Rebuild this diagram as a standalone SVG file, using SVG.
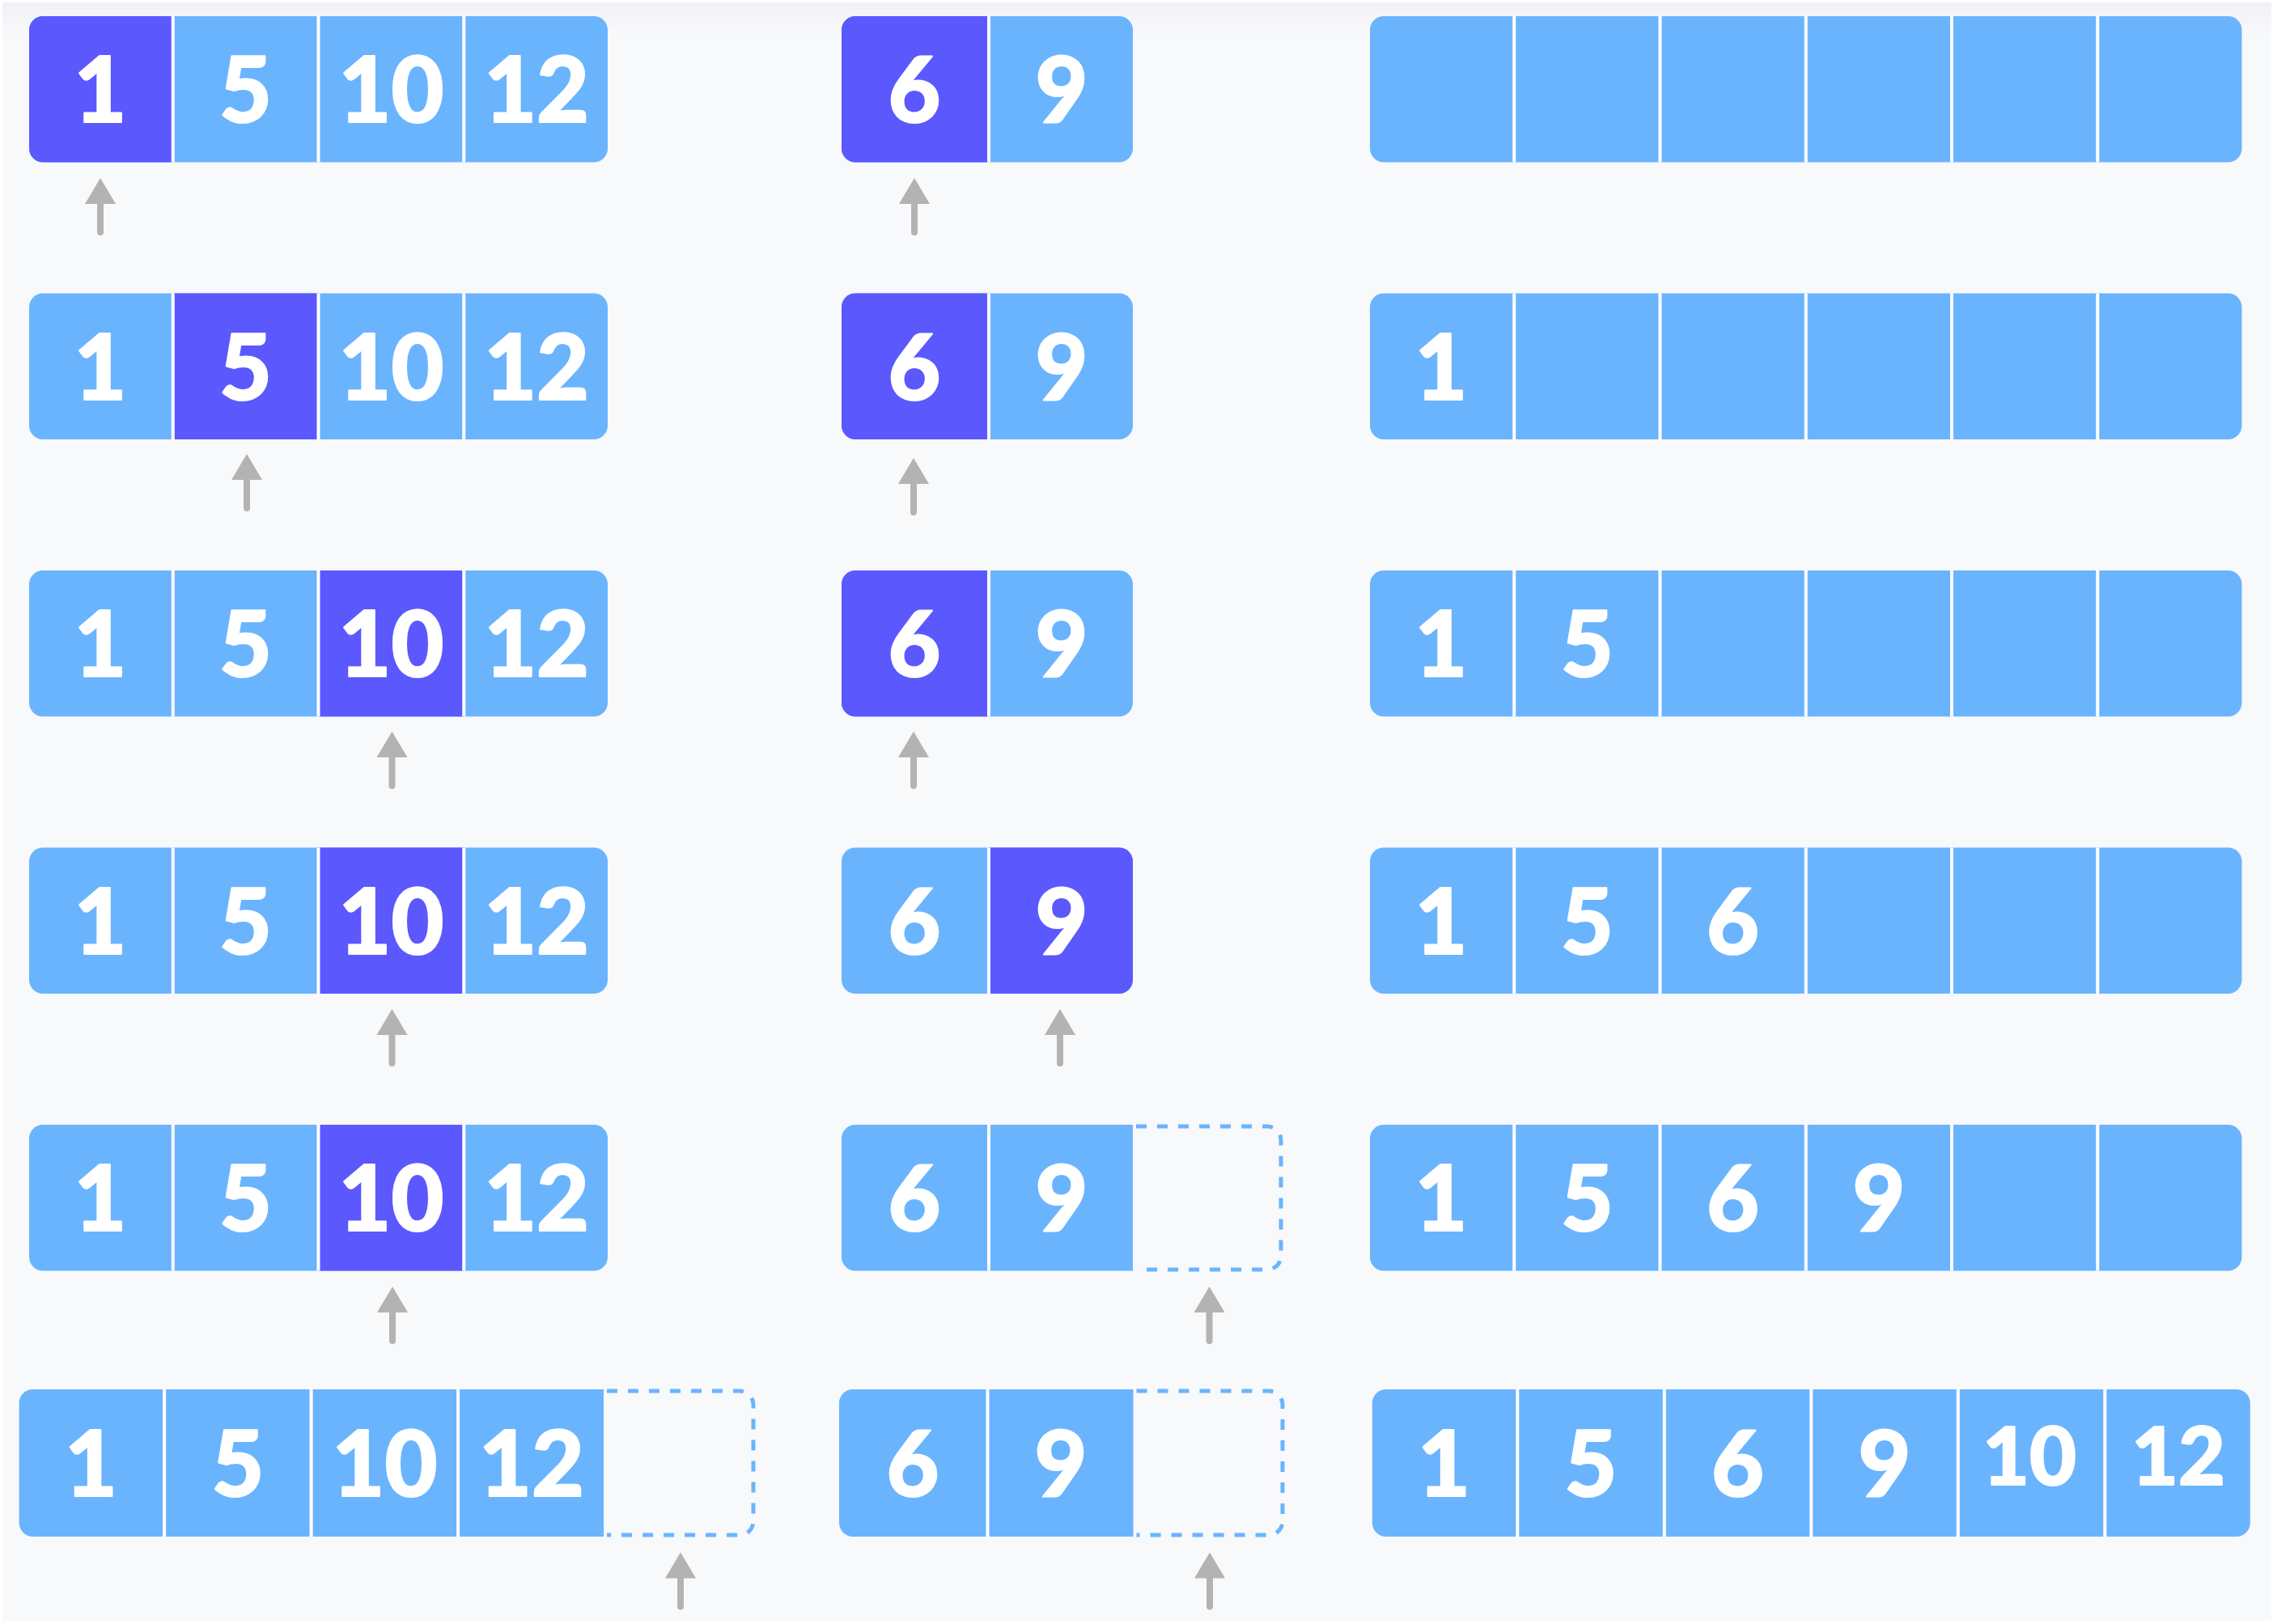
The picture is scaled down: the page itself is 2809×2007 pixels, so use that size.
<svg xmlns="http://www.w3.org/2000/svg" xmlns:xlink="http://www.w3.org/1999/xlink" width="2809" height="2007" viewBox="0 0 2809 2007">
<defs>
<style>
.bl{fill:#6AB4FE}
.hl{fill:#5B58FE}
.dv{stroke:#FFFFFF;stroke-width:4}
.dash{fill:none;stroke:#6AB4FE;stroke-width:5;stroke-dasharray:13 13}
.num{font-family:Lato,"Open Sans","Liberation Sans",sans-serif;font-weight:900;font-size:112px;fill:#FFFFFF;stroke:#FFFFFF;stroke-width:2;stroke-linejoin:round;text-anchor:middle}
.sm{font-size:100px}
.arw{fill:#B3B3B3}
</style>
<linearGradient id="topg" x1="0" y1="0" x2="0" y2="1">
<stop offset="0" stop-color="#F1F1F5"/>
<stop offset="1" stop-color="#F8F9FB"/>
</linearGradient>
<path id="arr" d="M0,0 L19,32 H4 V67 A4,4 0 0 1 -4,67 V32 H-19 Z"/>
</defs>
<rect x="0" y="0" width="2809" height="2007" fill="#FFFFFF"/>
<rect x="3" y="3" width="2804" height="2000" fill="#F8F9FB"/>
<rect x="3" y="3" width="2804" height="40" fill="url(#topg)"/>

<!-- Row 1 -->
<g id="r1-left">
<rect class="bl" x="36" y="20" width="715" height="180.5" rx="17"/>
<path class="hl" d="M213.75,20 H53 A17,17 0 0 0 36,37 V183.5 A17,17 0 0 0 53,200.5 H213.75 Z"/>
<line class="dv" x1="213.75" y1="20" x2="213.75" y2="200.5"/>
<line class="dv" x1="393.5" y1="20" x2="393.5" y2="200.5"/>
<line class="dv" x1="573.25" y1="20" x2="573.25" y2="200.5"/>
<text class="num" x="123.9" y="151">1</text>
<text class="num" x="303.6" y="151">5</text>
<text class="num" x="483.4" y="151">10</text>
<text class="num" x="663.1" y="151">12</text>
</g>
<g id="r1-mid">
<rect class="bl" x="1040" y="20" width="360" height="180.5" rx="17"/>
<path class="hl" d="M1222,20 H1057 A17,17 0 0 0 1040,37 V183.5 A17,17 0 0 0 1057,200.5 H1222 Z"/>
<line class="dv" x1="1222" y1="20" x2="1222" y2="200.5"/>
<text class="num" x="1130" y="151">6</text>
<text class="num" x="1312" y="151">9</text>
</g>
<g id="r1-right">
<rect class="bl" x="1693" y="20" width="1077.5" height="180.5" rx="17"/>
<line class="dv" x1="1871.25" y1="20" x2="1871.25" y2="200.5"/>
<line class="dv" x1="2051.5" y1="20" x2="2051.5" y2="200.5"/>
<line class="dv" x1="2231.75" y1="20" x2="2231.75" y2="200.5"/>
<line class="dv" x1="2412" y1="20" x2="2412" y2="200.5"/>
<line class="dv" x1="2592.25" y1="20" x2="2592.25" y2="200.5"/>
</g>

<!-- Row 2 -->
<g id="r2-left">
<rect class="bl" x="36" y="362.5" width="715" height="180.5" rx="17"/>
<rect class="hl" x="213.75" y="362.5" width="179.75" height="180.5"/>
<line class="dv" x1="213.75" y1="362.5" x2="213.75" y2="543"/>
<line class="dv" x1="393.5" y1="362.5" x2="393.5" y2="543"/>
<line class="dv" x1="573.25" y1="362.5" x2="573.25" y2="543"/>
<text class="num" x="123.9" y="493.5">1</text>
<text class="num" x="303.6" y="493.5">5</text>
<text class="num" x="483.4" y="493.5">10</text>
<text class="num" x="663.1" y="493.5">12</text>
</g>
<g id="r2-mid">
<rect class="bl" x="1040" y="362.5" width="360" height="180.5" rx="17"/>
<path class="hl" d="M1222,362.5 H1057 A17,17 0 0 0 1040,379.5 V526 A17,17 0 0 0 1057,543 H1222 Z"/>
<line class="dv" x1="1222" y1="362.5" x2="1222" y2="543"/>
<text class="num" x="1130" y="493.5">6</text>
<text class="num" x="1312" y="493.5">9</text>
</g>
<g id="r2-right">
<rect class="bl" x="1693" y="362.5" width="1077.5" height="180.5" rx="17"/>
<line class="dv" x1="1871.25" y1="362.5" x2="1871.25" y2="543"/>
<line class="dv" x1="2051.5" y1="362.5" x2="2051.5" y2="543"/>
<line class="dv" x1="2231.75" y1="362.5" x2="2231.75" y2="543"/>
<line class="dv" x1="2412" y1="362.5" x2="2412" y2="543"/>
<line class="dv" x1="2592.25" y1="362.5" x2="2592.25" y2="543"/>
<text class="num" x="1781.1" y="493.5">1</text>
</g>

<!-- Row 3 -->
<g id="r3-left">
<rect class="bl" x="36" y="705" width="715" height="180.5" rx="17"/>
<rect class="hl" x="393.5" y="705" width="179.75" height="180.5"/>
<line class="dv" x1="213.75" y1="705" x2="213.75" y2="885.5"/>
<line class="dv" x1="393.5" y1="705" x2="393.5" y2="885.5"/>
<line class="dv" x1="573.25" y1="705" x2="573.25" y2="885.5"/>
<text class="num" x="123.9" y="836">1</text>
<text class="num" x="303.6" y="836">5</text>
<text class="num" x="483.4" y="836">10</text>
<text class="num" x="663.1" y="836">12</text>
</g>
<g id="r3-mid">
<rect class="bl" x="1040" y="705" width="360" height="180.5" rx="17"/>
<path class="hl" d="M1222,705 H1057 A17,17 0 0 0 1040,722 V868.5 A17,17 0 0 0 1057,885.5 H1222 Z"/>
<line class="dv" x1="1222" y1="705" x2="1222" y2="885.5"/>
<text class="num" x="1130" y="836">6</text>
<text class="num" x="1312" y="836">9</text>
</g>
<g id="r3-right">
<rect class="bl" x="1693" y="705" width="1077.5" height="180.5" rx="17"/>
<line class="dv" x1="1871.25" y1="705" x2="1871.25" y2="885.5"/>
<line class="dv" x1="2051.5" y1="705" x2="2051.5" y2="885.5"/>
<line class="dv" x1="2231.75" y1="705" x2="2231.75" y2="885.5"/>
<line class="dv" x1="2412" y1="705" x2="2412" y2="885.5"/>
<line class="dv" x1="2592.25" y1="705" x2="2592.25" y2="885.5"/>
<text class="num" x="1781.1" y="836">1</text>
<text class="num" x="1961.4" y="836">5</text>
</g>

<!-- Row 4 -->
<g id="r4-left">
<rect class="bl" x="36" y="1047.5" width="715" height="180.5" rx="17"/>
<rect class="hl" x="393.5" y="1047.5" width="179.75" height="180.5"/>
<line class="dv" x1="213.75" y1="1047.5" x2="213.75" y2="1228"/>
<line class="dv" x1="393.5" y1="1047.5" x2="393.5" y2="1228"/>
<line class="dv" x1="573.25" y1="1047.5" x2="573.25" y2="1228"/>
<text class="num" x="123.9" y="1178.5">1</text>
<text class="num" x="303.6" y="1178.5">5</text>
<text class="num" x="483.4" y="1178.5">10</text>
<text class="num" x="663.1" y="1178.5">12</text>
</g>
<g id="r4-mid">
<rect class="bl" x="1040" y="1047.5" width="360" height="180.5" rx="17"/>
<path class="hl" d="M1222,1047.5 H1383 A17,17 0 0 1 1400,1064.5 V1211 A17,17 0 0 1 1383,1228 H1222 Z"/>
<line class="dv" x1="1222" y1="1047.5" x2="1222" y2="1228"/>
<text class="num" x="1130" y="1178.5">6</text>
<text class="num" x="1312" y="1178.5">9</text>
</g>
<g id="r4-right">
<rect class="bl" x="1693" y="1047.5" width="1077.5" height="180.5" rx="17"/>
<line class="dv" x1="1871.25" y1="1047.5" x2="1871.25" y2="1228"/>
<line class="dv" x1="2051.5" y1="1047.5" x2="2051.5" y2="1228"/>
<line class="dv" x1="2231.75" y1="1047.5" x2="2231.75" y2="1228"/>
<line class="dv" x1="2412" y1="1047.5" x2="2412" y2="1228"/>
<line class="dv" x1="2592.25" y1="1047.5" x2="2592.25" y2="1228"/>
<text class="num" x="1781.1" y="1178.5">1</text>
<text class="num" x="1961.4" y="1178.5">5</text>
<text class="num" x="2141.6" y="1178.5">6</text>
</g>

<!-- Row 5 -->
<g id="r5-left">
<rect class="bl" x="36" y="1390" width="715" height="180.5" rx="17"/>
<rect class="hl" x="393.5" y="1390" width="179.75" height="180.5"/>
<line class="dv" x1="213.75" y1="1390" x2="213.75" y2="1570.5"/>
<line class="dv" x1="393.5" y1="1390" x2="393.5" y2="1570.5"/>
<line class="dv" x1="573.25" y1="1390" x2="573.25" y2="1570.5"/>
<text class="num" x="123.9" y="1521">1</text>
<text class="num" x="303.6" y="1521">5</text>
<text class="num" x="483.4" y="1521">10</text>
<text class="num" x="663.1" y="1521">12</text>
</g>
<g id="r5-mid">
<path class="bl" d="M1400,1390 H1057 A17,17 0 0 0 1040,1407 V1553.5 A17,17 0 0 0 1057,1570.5 H1400 Z"/>
<line class="dv" x1="1222" y1="1390" x2="1222" y2="1570.5"/>
<path class="dash" d="M1404,1392 H1566 A17,17 0 0 1 1583,1409 V1552 A17,17 0 0 1 1566,1569 H1404"/>
<text class="num" x="1130" y="1521">6</text>
<text class="num" x="1312" y="1521">9</text>
</g>
<g id="r5-right">
<rect class="bl" x="1693" y="1390" width="1077.5" height="180.5" rx="17"/>
<line class="dv" x1="1871.25" y1="1390" x2="1871.25" y2="1570.5"/>
<line class="dv" x1="2051.5" y1="1390" x2="2051.5" y2="1570.5"/>
<line class="dv" x1="2231.75" y1="1390" x2="2231.75" y2="1570.5"/>
<line class="dv" x1="2412" y1="1390" x2="2412" y2="1570.5"/>
<line class="dv" x1="2592.25" y1="1390" x2="2592.25" y2="1570.5"/>
<text class="num" x="1781.1" y="1521">1</text>
<text class="num" x="1961.4" y="1521">5</text>
<text class="num" x="2141.6" y="1521">6</text>
<text class="num" x="2321.9" y="1521">9</text>
</g>

<!-- Row 6 -->
<g id="r6-left">
<path class="bl" d="M746,1717 H40.6 A17,17 0 0 0 23.6,1734 V1882 A17,17 0 0 0 40.6,1899 H746 Z"/>
<line class="dv" x1="203.1" y1="1717" x2="203.1" y2="1899"/>
<line class="dv" x1="384.6" y1="1717" x2="384.6" y2="1899"/>
<line class="dv" x1="566.1" y1="1717" x2="566.1" y2="1899"/>
<path class="dash" d="M750,1719 H914 A17,17 0 0 1 931,1736 V1880 A17,17 0 0 1 914,1897 H750"/>
<text class="num" x="112.4" y="1849">1</text>
<text class="num" x="293.9" y="1849">5</text>
<text class="num" x="475.4" y="1849">10</text>
<text class="num" x="656.9" y="1849">12</text>
</g>
<g id="r6-mid">
<path class="bl" d="M1400.5,1717 H1054 A17,17 0 0 0 1037,1734 V1882 A17,17 0 0 0 1054,1899 H1400.5 Z"/>
<line class="dv" x1="1220.5" y1="1717" x2="1220.5" y2="1899"/>
<path class="dash" d="M1404.5,1719 H1568 A17,17 0 0 1 1585,1736 V1880 A17,17 0 0 1 1568,1897 H1404.5"/>
<text class="num" x="1128" y="1849">6</text>
<text class="num" x="1311" y="1849">9</text>
</g>
<g id="r6-right">
<rect class="bl" x="1695.8" y="1717" width="1085" height="182" rx="17"/>
<line class="dv" x1="1875.3" y1="1717" x2="1875.3" y2="1899"/>
<line class="dv" x1="2056.8" y1="1717" x2="2056.8" y2="1899"/>
<line class="dv" x1="2238.3" y1="1717" x2="2238.3" y2="1899"/>
<line class="dv" x1="2419.8" y1="1717" x2="2419.8" y2="1899"/>
<line class="dv" x1="2601.3" y1="1717" x2="2601.3" y2="1899"/>
<text class="num" x="1784.5" y="1849">1</text>
<text class="num" x="1966" y="1849">5</text>
<text class="num" x="2147.5" y="1849">6</text>
<text class="num" x="2329" y="1849">9</text>
<text class="num sm" x="2508" y="1835">10</text>
<text class="num sm" x="2692" y="1835">12</text>
</g>

<!-- Pointer arrows -->
<g id="connectors" class="arw">
<use xlink:href="#arr" x="124" y="220"/>
<use xlink:href="#arr" x="1130" y="220"/>
<use xlink:href="#arr" x="305" y="561"/>
<use xlink:href="#arr" x="1129" y="566"/>
<use xlink:href="#arr" x="484.5" y="904"/>
<use xlink:href="#arr" x="1129" y="904"/>
<use xlink:href="#arr" x="484.5" y="1247"/>
<use xlink:href="#arr" x="1310" y="1247"/>
<use xlink:href="#arr" x="485" y="1590"/>
<use xlink:href="#arr" x="1494.5" y="1590"/>
<use xlink:href="#arr" x="841" y="1918.5"/>
<use xlink:href="#arr" x="1495" y="1918.5"/>
</g>
</svg>
